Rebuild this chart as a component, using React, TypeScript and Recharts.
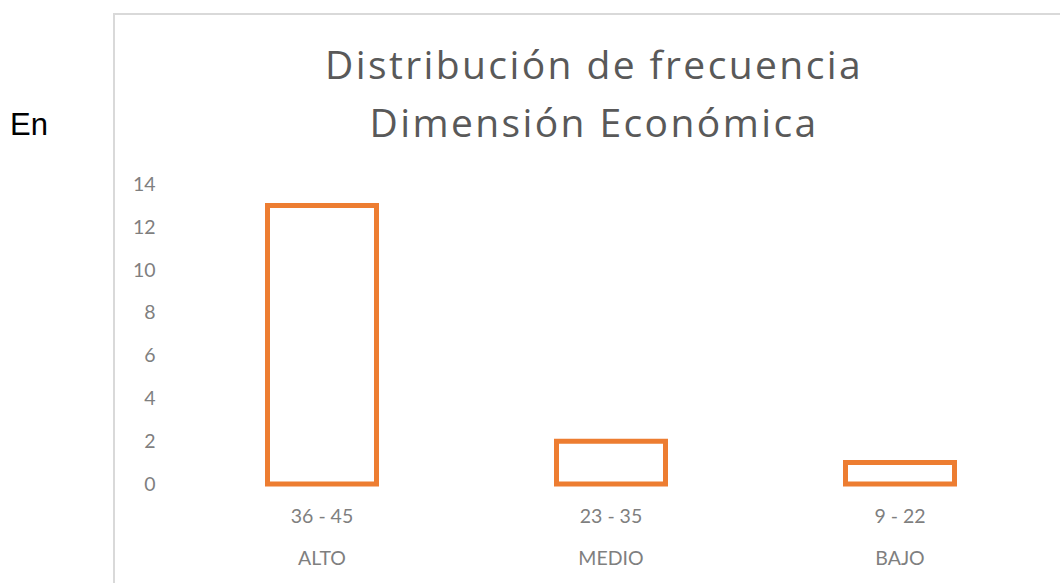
import React from 'react';
import { BarChart, Bar, XAxis, YAxis } from 'recharts';

const ranges = ['36 - 45', '23 - 35', '9 - 22'];
const levels = ['ALTO', 'MEDIO', 'BAJO'];
const frequencies = [13, 2, 1];
const yTicks = [0, 2, 4, 6, 8, 10, 12, 14];
const titleLines = ['Distribución de frecuencia', 'Dimensión Económica'];
const sideText = 'En';

const data = ranges.map((r, i) => ({ range: r, level: levels[i], value: frequencies[i] }));

const tickStyle = { fontSize: 19.5, fill: '#7f7f7f', fontFamily: 'Lato' };

export default function App() {
  return (
    <div style={{ position: 'absolute', left: 0, top: 0, width: 1060, height: 583, overflow: 'hidden', background: '#fff' }}>
      <div style={{ position: 'absolute', left: 113, top: 13, width: 1000, height: 640, border: '2px solid #d9d9d9' }} />
      <div style={{ position: 'absolute', left: 0, top: 0 }}>
        <BarChart width={1060} height={583} data={data} margin={{ top: 184, right: 15.5, bottom: 0, left: 117.5 }}>
          <YAxis
            domain={[0, 14]}
            ticks={yTicks}
            width={60}
            axisLine={false}
            tickLine={false}
            tickSize={0}
            tickMargin={22}
            tick={tickStyle}
          />
          <XAxis
            dataKey="range"
            height={40}
            axisLine={false}
            tickLine={false}
            tickSize={0}
            tickMargin={25}
            tick={tickStyle}
          />
          <XAxis
            xAxisId="lvl"
            dataKey="level"
            height={59}
            axisLine={false}
            tickLine={false}
            tickSize={0}
            tickMargin={27}
            tick={tickStyle}
          />
          <Bar dataKey="value" fill="#ffffff" stroke="#ED7D31" strokeWidth={5} barSize={109} isAnimationActive={false} />
        </BarChart>
      </div>
      <svg width={1060} height={583} style={{ position: 'absolute', left: 0, top: 0, pointerEvents: 'none' }}>
        <text x={10} y={135} fontFamily="'Liberation Sans', Arial" fontSize={31} fill="#000">{sideText}</text>
        <text x={594} y={79} textAnchor="middle" fontFamily="'Open Sans'" fontSize={39} letterSpacing={2.4} fill="#595959">{titleLines[0]}</text>
        <text x={594} y={137} textAnchor="middle" fontFamily="'Open Sans'" fontSize={39} letterSpacing={2.4} fill="#595959">{titleLines[1]}</text>
      </svg>
    </div>
  );
}
